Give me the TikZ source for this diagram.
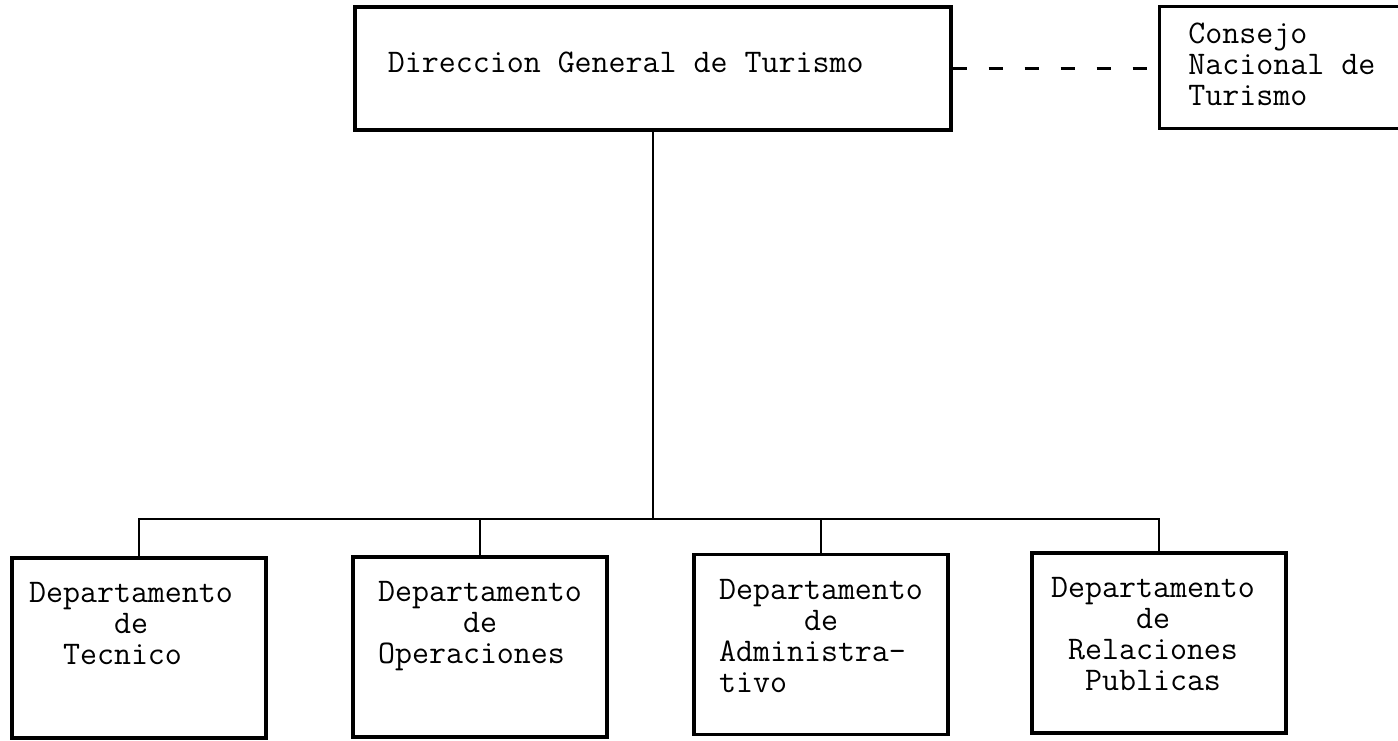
\documentclass[tikz,border=0pt]{standalone}
\usepackage{fontspec}
\usepackage{tikz}

\begin{document}
\begin{tikzpicture}[x=.5pt,y=-.5pt,font=\ttfamily\fontsize{16.5}{15.5}\selectfont,
  box/.style={draw,line width=1.6pt,minimum width=127pt,minimum height=90pt,inner sep=0pt},
  txt/.style={align=left,inner sep=0pt,anchor=north},
  link/.style={line width=1.4pt}]
\useasboundingbox (0,0) rectangle (1398,740);
\node[box,minimum width=298pt,minimum height=61.5pt] (dgt) at (653,68.5) {};
\node[txt,anchor=base west] (dgt-t) at ([shift={(34,4)}]dgt.west) {Direccion General de Turismo};
\node[box,minimum width=130pt,minimum height=61pt,anchor=north west] (cnt) at (1158,5) {};
\node[txt,anchor=north west] (cnt-t) at ([shift={(30,18)}]cnt.north west) {Consejo\\Nacional de\\Turismo};
\node[box] (tec) at (139,648) {};
\node[box] (ope) at (480,647) {};
\node[box] (adm) at (821,644.5) {};
\node[box] (rel) at (1159,643) {};
\node[txt] (tec-t) at ([shift={(-8,26)}]tec.north) {Departamento\\\phantom{xxxxx}de\\\phantom{xx}Tecnico};
\node[txt] (ope-t) at ([shift={(0,26)}]ope.north) {Departamento\\\phantom{xxxxx}de\\Operaciones};
\node[txt] (adm-t) at ([shift={(0,26)}]adm.north) {Departamento\\\phantom{xxxxx}de\\Administra-\\tivo};
\node[txt] (rel-t) at ([shift={(-6,26)}]rel.north) {Departamento\\\phantom{xxxxx}de\\\phantom{x}Relaciones\\\phantom{xx}Publicas};
\coordinate (bar) at (653,519);
\draw[link,dash pattern=on 7pt off 11pt] (dgt.east) -- (dgt.east -| cnt.west);
\draw[link] (dgt.south) -- (bar);
\draw[link] (tec.north) |- (bar) -| (rel.north);
\draw[link] (ope.north) -- (ope.north |- bar);
\draw[link] (adm.north) -- (adm.north |- bar);
\end{tikzpicture}
\end{document}
